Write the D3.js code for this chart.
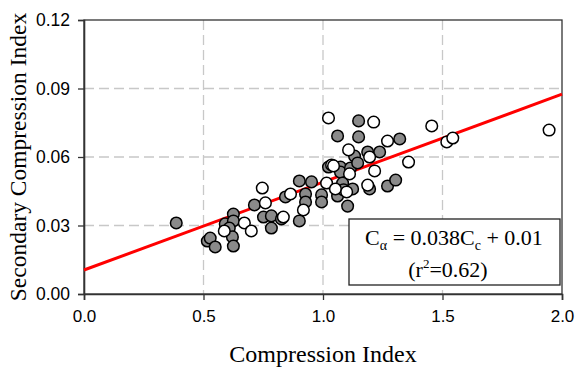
<!DOCTYPE html>
<html><head><meta charset="utf-8">
<script src="https://cdn.jsdelivr.net/npm/d3@7"></script>
<style>body{margin:0;background:#fff}svg{display:block}</style>
</head><body>
<svg id="c" width="585" height="368"></svg>
<script>
// Data
const grayX = [0.386,0.516,0.528,0.549,0.591,0.625,0.625,0.608,0.621,0.625,0.713,0.751,0.784,0.784,0.826,0.843,0.901,0.927,0.927,0.901,0.952,0.994,0.994,1.023,1.073,1.073,1.115,1.082,1.061,1.086,1.124,1.103,1.061,1.149,1.149,1.132,1.145,1.187,1.237,1.321,1.195,1.270,1.304];
const grayY = [0.0311,0.0232,0.0245,0.0206,0.0307,0.0350,0.0320,0.0289,0.0250,0.0210,0.0390,0.0337,0.0342,0.0289,0.0329,0.0425,0.0495,0.0438,0.0403,0.0320,0.0491,0.0434,0.0403,0.0556,0.0556,0.0534,0.0552,0.0486,0.0429,0.0456,0.0460,0.0385,0.0692,0.0688,0.0758,0.0604,0.0574,0.0622,0.0622,0.0679,0.0460,0.0473,0.0499];
const whiteX = [0.587,0.671,0.700,0.746,0.759,0.834,0.864,0.918,1.015,1.036,1.044,1.052,1.099,1.111,1.107,1.023,1.212,1.270,1.195,1.216,1.187,1.358,1.455,1.518,1.543,1.946];
const whiteY = [0.0276,0.0311,0.0276,0.0464,0.0399,0.0337,0.0438,0.0368,0.0486,0.0565,0.0561,0.0460,0.0447,0.0526,0.0631,0.0771,0.0753,0.0670,0.0600,0.0539,0.0477,0.0578,0.0736,0.0666,0.0683,0.0718];
const fitX = [0, 2.0];
const fitY = [0.0105, 0.0875];
const xTicks = [0, 0.5, 1.0, 1.5, 2.0];
const yTicks = [0, 0.03, 0.06, 0.09, 0.12];
const xLabel = "Compression Index";
const yLabel = "Secondary Compression Index";

const svg = d3.select("#c");
const L = 84, R = 562, T = 20, B = 294;
const x = d3.scaleLinear().domain([0, 2]).range([L, R]);
const y = d3.scaleLinear().domain([0, 0.12]).range([B, T]);

// grid
const grid = svg.append("g").attr("stroke", "#c8c8c8").attr("stroke-width", 1.3).attr("stroke-dasharray", "10,5");
grid.selectAll("line.v").data(xTicks.slice(1, -1)).join("line")
  .attr("x1", d => x(d)).attr("x2", d => x(d)).attr("y1", T).attr("y2", B);
grid.selectAll("line.h").data(yTicks.slice(1, -1)).join("line")
  .attr("x1", L).attr("x2", R).attr("y1", d => y(d)).attr("y2", d => y(d));

// frame
svg.append("rect").attr("x", L).attr("y", T).attr("width", R - L).attr("height", B - T)
  .attr("fill", "none").attr("stroke", "#333").attr("stroke-width", 1.3);

// axes
const ax = svg.append("g").attr("transform", `translate(0,${B})`)
  .call(d3.axisBottom(x).tickValues(xTicks).tickSize(6).tickPadding(10).tickFormat(d3.format(".1f")));
const ay = svg.append("g").attr("transform", `translate(${L},0)`)
  .call(d3.axisLeft(y).tickValues(yTicks).tickSize(6).tickPadding(8).tickFormat(d3.format(".2f")));
[ax, ay].forEach(g => {
  g.select(".domain").attr("stroke", "#333").attr("stroke-width", 1.6);
  g.selectAll(".tick line").attr("stroke", "#333").attr("stroke-width", 1.3);
  g.selectAll("text").attr("fill", "#000").attr("font-family", "'Liberation Sans', Arial, sans-serif");
});
ax.selectAll("text").attr("font-size", 17);
ay.selectAll("text").attr("font-size", 17.5);

// regression line
const line = d3.line().x(d => x(d[0])).y(d => y(d[1]));
svg.append("path").datum(d3.zip(fitX, fitY)).attr("d", line)
  .attr("stroke", "#ff0000").attr("stroke-width", 3).attr("fill", "none");

// points
const r = 5.8;
svg.append("g").selectAll("circle").data(d3.zip(grayX, grayY)).join("circle")
  .attr("cx", d => x(d[0])).attr("cy", d => y(d[1])).attr("r", r)
  .attr("fill", "#8a8a8a").attr("stroke", "#000").attr("stroke-width", 1.5);
svg.append("g").selectAll("circle").data(d3.zip(whiteX, whiteY)).join("circle")
  .attr("cx", d => x(d[0])).attr("cy", d => y(d[1])).attr("r", r)
  .attr("fill", "#fff").attr("stroke", "#000").attr("stroke-width", 1.5);

// annotation box
svg.append("rect").attr("x", 349).attr("y", 219).attr("width", 211).attr("height", 66)
  .attr("fill", "#fff").attr("stroke", "#222").attr("stroke-width", 1.3);
const serif = "'Liberation Serif', 'Times New Roman', serif";
const t1 = svg.append("text").attr("x", 454).attr("y", 245).attr("text-anchor", "middle")
  .attr("font-family", serif).attr("font-size", 22);
t1.append("tspan").text("C");
t1.append("tspan").attr("font-size", 14).attr("dy", 5).text("α");
t1.append("tspan").attr("dy", -5).text(" = 0.038C");
t1.append("tspan").attr("font-size", 14).attr("dy", 5).text("c");
t1.append("tspan").attr("dy", -5).text(" + 0.01");
const t2 = svg.append("text").attr("x", 448).attr("y", 277).attr("text-anchor", "middle")
  .attr("font-family", serif).attr("font-size", 22);
t2.append("tspan").text("(r");
t2.append("tspan").attr("font-size", 13).attr("dy", -9).text("2");
t2.append("tspan").attr("dy", 9).text("=0.62)");

// axis titles
svg.append("text").attr("x", (L + R) / 2).attr("y", 362).attr("text-anchor", "middle")
  .attr("font-family", serif).attr("font-size", 24).text(xLabel);
svg.append("text").attr("transform", `translate(26,${(T + B) / 2}) rotate(-90)`)
  .attr("text-anchor", "middle").attr("font-family", serif).attr("font-size", 23.5).text(yLabel);
</script>
</body></html>
